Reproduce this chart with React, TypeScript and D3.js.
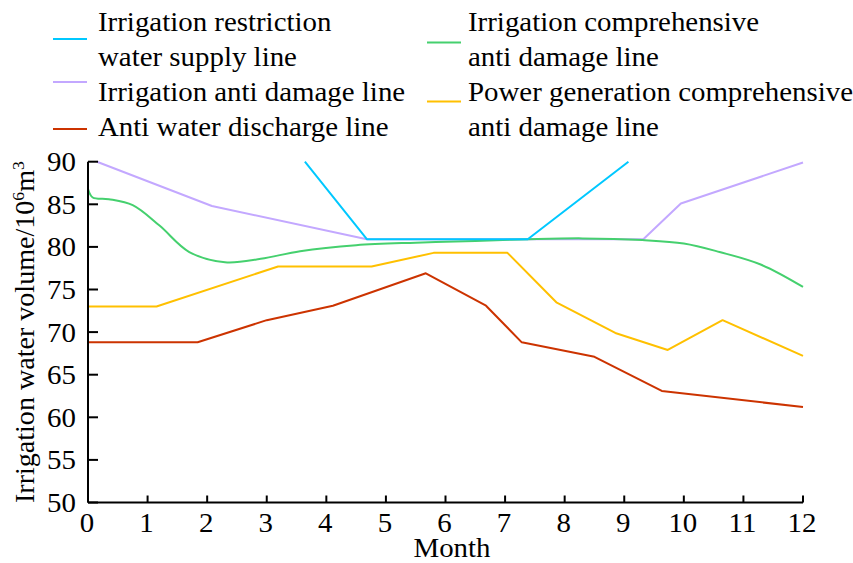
import React from "react";
import * as d3 from "d3";

const WIDTH = 853;
const HEIGHT = 563;

// month positions and water volumes (10^6 m^3) for each dispatch line
const restrictionMonths = [3.64, 4.68, 7.38, 9.07];
const restrictionValues = [90, 80.9, 80.9, 90];

const antiDamageMonths = [0.15, 2.08, 4.68, 9.32, 9.95, 12];
const antiDamageValues = [90, 84.8, 80.9, 80.9, 85.1, 89.9];

const comprehensiveMonths = [0, 0.08, 0.35, 0.75, 1.2, 1.7, 2.3, 2.9, 3.56, 4.5, 5.5, 6.5, 7.4, 8.3, 9.3, 10.0, 10.6, 11.3, 12];
const comprehensiveValues = [86.8, 85.8, 85.6, 84.9, 82.5, 79.4, 78.2, 78.6, 79.5, 80.2, 80.5, 80.7, 80.9, 81.0, 80.8, 80.4, 79.4, 77.9, 75.3];

const powerMonths = [0, 1.15, 3.19, 4.76, 5.8, 7.04, 7.86, 8.85, 9.73, 10.65, 12];
const powerValues = [73.0, 73.0, 77.7, 77.7, 79.3, 79.3, 73.5, 69.9, 67.9, 71.4, 67.2];

const dischargeMonths = [0, 1.84, 3.0, 4.11, 5.67, 6.68, 7.28, 8.5, 9.63, 12];
const dischargeValues = [68.8, 68.8, 71.4, 73.1, 76.9, 73.1, 68.8, 67.1, 63.1, 61.2];

const xTicks = [0, 1, 2, 3, 4, 5, 6, 7, 8, 9, 10, 11, 12];
const yTicks = [50, 55, 60, 65, 70, 75, 80, 85, 90];

const FONT = "'Liberation Serif', 'Times New Roman', serif";
const FS = 27;
const STRETCH = 1.07;

type Series = {
  name: string[];
  months: number[];
  values: number[];
  color: string;
  smooth?: boolean;
};

const series: Series[] = [
  { name: ["Irrigation anti damage line"], months: antiDamageMonths, values: antiDamageValues, color: "#C3A8FF" },
  { name: ["Anti water discharge line"], months: dischargeMonths, values: dischargeValues, color: "#CC3300" },
  { name: ["Power generation comprehensive", "anti damage line"], months: powerMonths, values: powerValues, color: "#FFC000" },
  { name: ["Irrigation comprehensive", "anti damage line"], months: comprehensiveMonths, values: comprehensiveValues, color: "#45D06E", smooth: true },
  { name: ["Irrigation restriction", "water supply line"], months: restrictionMonths, values: restrictionValues, color: "#00C8FF" },
];

// slightly wide serif text
function Label(props: { x: number; y: number; anchor?: "start" | "middle" | "end"; rotate?: number; stretch?: number; children: React.ReactNode }) {
  const { x, y, anchor = "start", rotate = 0, stretch = STRETCH, children } = props;
  return (
    <text
      transform={`translate(${x},${y}) rotate(${rotate}) scale(${stretch},1)`}
      fontSize={FS}
      textAnchor={anchor}
      fill="#000"
    >
      {children}
    </text>
  );
}

export default function App() {
  const x = d3.scaleLinear().domain([0, 12]).range([88, 803]);
  const y = d3.scaleLinear().domain([50, 90]).range([502.5, 161.7]);

  const pathFor = (s: Series) => {
    const pts: [number, number][] = s.months.map((m, i) => [m, s.values[i]]);
    const gen = d3
      .line<[number, number]>()
      .x((d) => x(d[0]))
      .y((d) => y(d[1]))
      .curve(s.smooth ? d3.curveCatmullRom.alpha(0.5) : d3.curveLinear);
    return gen(pts) || "";
  };

  const byName = (n: string) => series.find((s) => s.name[0] === n)!;

  // legend layout: two columns
  const legendLeft = [
    { s: byName("Irrigation restriction"), lineY: 39, textY: [31, 65.5] },
    { s: byName("Irrigation anti damage line"), lineY: 82, textY: [101] },
    { s: byName("Anti water discharge line"), lineY: 129, textY: [136] },
  ];
  const legendRight = [
    { s: byName("Irrigation comprehensive"), lineY: 42.5, textY: [31, 65.5] },
    { s: byName("Power generation comprehensive"), lineY: 101.5, textY: [101, 136] },
  ];

  return (
    <svg
      width={WIDTH}
      height={HEIGHT}
      style={{ position: "absolute", left: 0, top: 0, background: "#fff" }}
      fontFamily={FONT}
    >
      <rect width={WIDTH} height={HEIGHT} fill="#fff" />

      {/* data lines */}
      {series.map((s) => (
        <path key={s.name[0]} d={pathFor(s)} fill="none" stroke={s.color} strokeWidth={2} strokeLinejoin="round" />
      ))}

      {/* axes */}
      <line x1={x(0)} x2={x(12)} y1={y(50)} y2={y(50)} stroke="#000" strokeWidth={2} />
      <line x1={x(0)} x2={x(0)} y1={y(50)} y2={y(90)} stroke="#000" strokeWidth={2} />
      {xTicks.map((t) => (
        <g key={"x" + t}>
          <line x1={x(t)} x2={x(t)} y1={y(50)} y2={y(50) - 7} stroke="#000" strokeWidth={2} />
          <Label x={x(t) - 1} y={531.5} anchor="middle">
            {t}
          </Label>
        </g>
      ))}
      {yTicks.map((t) => (
        <g key={"y" + t}>
          <line x1={x(0)} x2={x(0) + 10} y1={y(t)} y2={y(t)} stroke="#000" strokeWidth={2} />
          <Label x={76} y={y(t) + 9.5} anchor="end">
            {t}
          </Label>
        </g>
      ))}

      {/* axis titles */}
      <Label x={452} y={557} anchor="middle">
        Month
      </Label>
      <Label x={34} y={(y(50) + y(90)) / 2} anchor="middle" rotate={-90} stretch={1.04}>
        Irrigation water volume/10
        <tspan dy={-10} fontSize={17}>6</tspan>
        <tspan dy={10}>m</tspan>
        <tspan dy={-10} fontSize={17}>3</tspan>
      </Label>

      {/* legend */}
      {legendLeft.map(({ s, lineY, textY }) => (
        <g key={"l" + s.name[0]}>
          <line x1={53} x2={87} y1={lineY} y2={lineY} stroke={s.color} strokeWidth={2} />
          {s.name.map((ln, i) => (
            <Label key={i} x={98} y={textY[i]}>
              {ln}
            </Label>
          ))}
        </g>
      ))}
      {legendRight.map(({ s, lineY, textY }) => (
        <g key={"r" + s.name[0]}>
          <line x1={427} x2={461} y1={lineY} y2={lineY} stroke={s.color} strokeWidth={2} />
          {s.name.map((ln, i) => (
            <Label key={i} x={468} y={textY[i]}>
              {ln}
            </Label>
          ))}
        </g>
      ))}
    </svg>
  );
}
